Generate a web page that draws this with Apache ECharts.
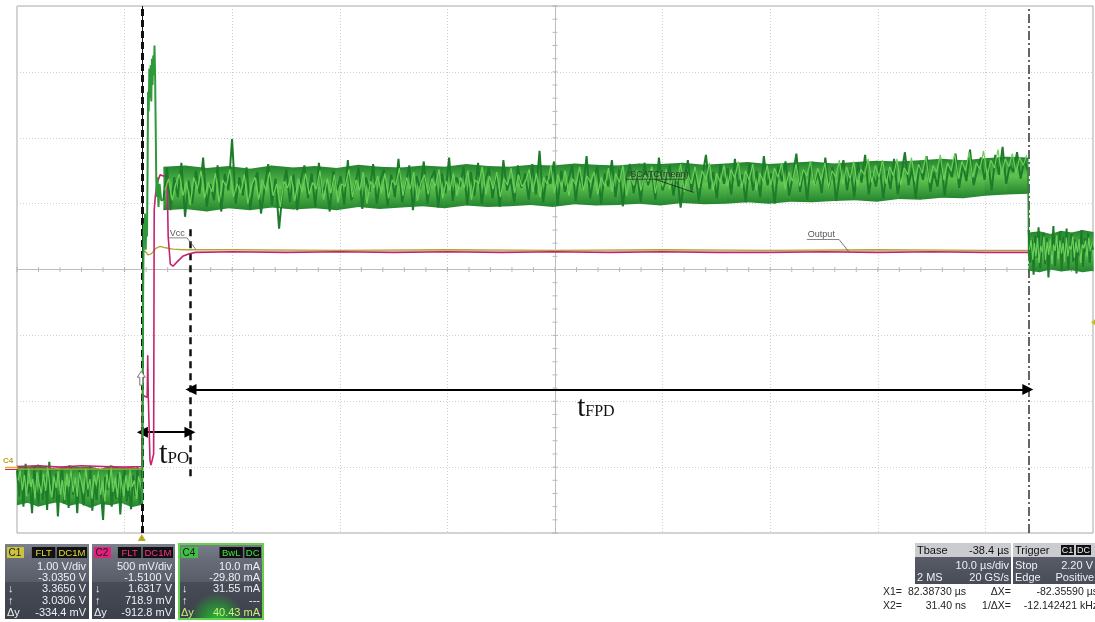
<!DOCTYPE html>
<html><head><meta charset="utf-8">
<script src="https://cdn.jsdelivr.net/npm/echarts/dist/echarts.min.js"></script>
<style>html,body{margin:0;padding:0;background:#fff;overflow:hidden}#c{width:1095px;height:622px}</style>
</head><body><div id="c"></div>
<script>
// Time in µs from the left edge of the screen (10 µs/div), amplitude in divisions (8 div screen)
const cursorX2 = 11.6;     // trigger cursor (X2)
const cursorX1 = 93.99;    // X1 cursor (X2 + 82.36 µs)
const tpoEnd = 16.12;      // end of tPO interval
const tpoLevel = -2.47;
const tfpdLevel = -1.82;

// C4 (current) trace – hand-read samples, dark (outer) and light (inner) persistence strokes
const c4PreSpan = [0, 11.6];
const c4Pre = [-3.05,-3.45,-3.10,-3.60,-2.95,-3.40,-3.25,-3.70,-3.00,-3.35,-3.55,-3.05,-3.50,-3.15,-3.65,-2.92,-3.30,-3.48,-3.10,-3.75,
  -3.20,-3.02,-3.55,-3.28,-3.62,-3.00,-3.42,-3.18,-3.70,-3.05,-3.38,-3.58,-3.12,-3.45,-2.98,-3.66,-3.22,-3.50,-3.08,-3.40,
  -3.80,-3.15,-3.35,-3.02,-3.60,-3.25,-3.48,-3.10,-3.72,-3.20,-3.05,-3.52,-3.30,-3.64,-3.12,-3.44,-3.00,-3.56,-3.30];
const c4PreB = [-3.20,-3.05,-3.35,-3.12,-3.44,-3.02,-3.30,-3.18,-3.48,-3.08,-3.26,-3.40,-3.10,-3.36,-3.00,-3.28,-3.46,-3.14,-3.32,-3.06,
  -3.42,-3.20,-3.50,-3.10,-3.30,-3.04,-3.38,-3.16,-3.45,-3.08,-3.24,-3.40,-3.02,-3.34,-3.18,-3.48,-3.12,-3.28,-3.06,-3.42,
  -3.22,-3.52,-3.10,-3.32,-3.00,-3.38,-3.16,-3.46,-3.08,-3.26,-3.44,-3.12,-3.36,-3.04,-3.30,-3.20,-3.48,-3.14,-3.28];
const c4PreHi = [-2.98,-3.00,-2.96,-3.01,-3.02,-2.97,-3.00,-2.99,-3.03,-2.97,-3.01,-3.00,-3.02];
const c4PreLo = [-3.58,-3.54,-3.60,-3.56,-3.53,-3.59,-3.55,-3.62,-3.56,-3.58,-3.54,-3.61,-3.57];
const c4Spike = [[11.6,-3.30],[11.64,-3.55],[11.68,-2.40],[11.72,-0.40],[11.78,0.70],[11.84,0.45],[11.90,0.85],[11.96,0.30],
  [12.02,0.75],[12.08,0.50],[12.14,1.60],[12.18,2.70],[12.24,2.40],[12.30,3.05],[12.36,2.60],[12.42,3.10],[12.48,2.55],
  [12.54,3.20],[12.60,2.80],[12.66,3.25],[12.72,2.95],[12.78,3.40],[12.84,2.90],[12.88,2.30],[12.94,1.40],[12.98,1.10],
  [13.05,1.40],[13.15,0.95],[13.25,1.30],[13.40,1.05],[13.60,1.05]];
const c4MainSpan = [13.6, 93.95];
const c4Main = [
  1.05,1.55,0.90,1.40,1.10,1.62,0.80,1.35,1.00,1.50,1.15,1.70,0.95,1.30,1.05,1.58,0.88,1.45,1.20,1.98,
  1.00,1.40,1.12,1.55,0.92,1.30,1.48,0.85,1.25,1.60,0.98,1.38,0.62,1.20,1.52,1.02,1.44,0.90,1.35,1.58,
  1.08,1.46,0.95,1.62,1.15,1.32,0.88,1.50,1.20,1.42,0.98,1.66,1.05,1.28,1.55,0.92,1.40,1.18,1.60,1.00,
  1.35,1.52,0.96,1.44,1.10,1.68,1.02,1.30,1.58,0.90,1.42,1.22,1.64,1.00,1.38,1.50,0.94,1.46,1.16,1.70,
  1.04,1.40,1.26,1.56,0.98,1.48,1.12,1.62,1.00,1.34,1.54,1.08,1.44,0.95,1.66,1.20,1.38,1.02,1.58,1.24,
  1.46,1.06,1.60,1.14,1.80,1.02,1.42,1.30,1.64,0.98,1.50,1.18,1.36,1.58,1.04,1.48,1.22,1.72,1.08,1.40,
  1.56,1.00,1.46,1.26,1.66,1.10,1.52,0.96,1.40,1.60,1.16,1.44,1.02,1.62,1.28,1.50,1.06,1.70,1.20,1.38,
  1.58,1.12,1.46,0.94,1.36,1.66,1.18,1.52,1.04,1.42,1.74,1.22,1.48,1.08,1.60,1.30,1.54,1.14,1.68,1.26,
  1.44,1.02,1.62,1.20,1.50,1.10,1.72,1.28,1.46,1.00,1.56,1.34,1.64,1.12,1.42,1.76,1.18,1.52,1.06,1.60,
  1.30,1.48,1.16,1.70,1.24,1.56,1.04,1.44,1.66,1.20,1.52,1.10,1.62,1.32,1.74,1.14,1.46,1.26,1.58,1.08,
  1.50,1.22,1.68,1.14,1.44,1.78,1.28,1.54,1.08,1.62,1.36,1.72,1.18,1.48,1.26,1.66,1.12,1.56,1.40,1.76,
  1.24,1.60,1.34,1.82,1.28,1.52,1.70,1.36,1.64,1.20,1.74,1.44,1.86,1.30,1.58,1.48,1.78,1.38,1.66,1.50];
const c4MainB = [
  1.20,1.38,1.05,1.30,1.45,1.12,1.34,0.98,1.40,1.22,1.50,1.08,1.32,1.18,1.46,1.02,1.36,1.26,1.52,1.10,
  1.30,1.16,1.44,1.00,1.28,1.40,1.06,1.36,1.20,1.48,1.12,1.30,0.95,1.34,1.24,1.42,1.04,1.38,1.18,1.46,
  1.14,1.32,1.22,1.50,1.06,1.38,1.16,1.44,1.02,1.30,1.26,1.52,1.10,1.36,1.20,1.48,1.00,1.34,1.24,1.42,
  1.16,1.46,1.08,1.36,1.28,1.54,1.12,1.40,1.22,1.48,1.04,1.32,1.44,1.14,1.38,1.26,1.52,1.08,1.34,1.20,
  1.46,1.12,1.40,1.24,1.50,1.06,1.36,1.30,1.56,1.14,1.42,1.22,1.48,1.10,1.38,1.28,1.54,1.16,1.44,1.26,
  1.34,1.52,1.18,1.46,1.10,1.40,1.30,1.58,1.16,1.44,1.24,1.50,1.12,1.38,1.28,1.56,1.20,1.42,1.32,1.48,
  1.14,1.40,1.26,1.54,1.18,1.46,1.32,1.58,1.12,1.42,1.28,1.50,1.20,1.44,1.34,1.56,1.16,1.46,1.26,1.52,
  1.22,1.48,1.34,1.60,1.18,1.44,1.30,1.56,1.24,1.50,1.36,1.62,1.20,1.46,1.32,1.58,1.26,1.52,1.38,1.64,
  1.24,1.50,1.36,1.60,1.20,1.46,1.32,1.58,1.28,1.54,1.40,1.62,1.22,1.48,1.34,1.60,1.26,1.52,1.42,1.64,
  1.28,1.54,1.36,1.62,1.24,1.50,1.40,1.66,1.30,1.56,1.38,1.64,1.26,1.52,1.44,1.68,1.32,1.58,1.40,1.66,
  1.30,1.56,1.42,1.68,1.28,1.54,1.44,1.70,1.34,1.60,1.46,1.72,1.32,1.58,1.48,1.74,1.36,1.62,1.50,1.76,
  1.38,1.64,1.50,1.78,1.40,1.62,1.52,1.80,1.42,1.66,1.54,1.82,1.44,1.68,1.56,1.76,1.46,1.70,1.58,1.74];
const c4MainHi = [1.56,1.58,1.54,1.57,1.53,1.58,1.55,1.57,1.54,1.59,1.56,1.55,1.58,1.56,1.60,1.57,1.56,1.59,1.58,1.61,1.59,
  1.58,1.61,1.60,1.62,1.59,1.61,1.63,1.60,1.62,1.64,1.61,1.63,1.65,1.64,1.66,1.68,1.66,1.69,1.71,1.70];
const c4MainLo = [0.90,0.92,0.88,0.93,0.90,0.94,0.91,0.93,0.90,0.95,0.92,0.94,0.96,0.93,0.97,0.95,0.96,0.98,0.95,0.99,0.97,
  0.98,1.00,0.97,1.01,0.99,1.00,1.02,1.00,1.03,1.02,1.04,1.05,1.03,1.07,1.06,1.09,1.08,1.12,1.14,1.15];
const c4Drop = [[93.95,1.50],[93.99,0.90],[94.02,0.20]];
const c4PostSpan = [94.02, 100];
const c4Post = [0.60,0.10,0.45,-0.08,0.52,0.18,0.64,0.02,0.38,0.56,0.08,0.48,-0.12,0.40,0.22,0.66,0.05,0.44,0.28,0.58,
  -0.02,0.50,0.14,0.62,0.00,0.36,0.54,0.12,0.46,-0.06,0.42,0.20,0.60,0.04,0.48,0.26,0.55,0.10,0.40,0.30];
const c4PostB = [0.30,0.45,0.15,0.40,0.20,0.48,0.10,0.36,0.26,0.50,0.14,0.42,0.22,0.46,0.08,0.38,0.28,0.52,0.16,0.44,
  0.24,0.40,0.12,0.48,0.20,0.36,0.30,0.50,0.18,0.42,0.26,0.46,0.10,0.38,0.32,0.44,0.20,0.48,0.28,0.40];
const c4PostHi = [0.56,0.58,0.54,0.59,0.56,0.60,0.57];
const c4PostLo = [-0.02,-0.04,0.00,-0.03,-0.01,-0.04,-0.02];

// C2 (Output) trace
const c2Points = [[0,-2.99],[2,-2.98],[4,-3.00],[6,-2.98],[8,-2.99],[10,-3.00],[11.6,-2.99],
  [11.68,-1.88],[11.80,-1.92],[11.95,-1.90],[12.10,-1.94],[12.15,-1.30],[12.20,-1.92],[12.30,-1.95],[12.36,-2.90],
  [12.45,-2.97],[12.60,-2.95],[12.70,-2.80],[12.75,0.90],[12.85,1.10],[13.00,1.30],[13.30,1.44],[13.60,1.42],[13.95,1.42],
  [14.05,0.50],[14.25,0.08],[14.50,0.05],[14.90,0.12],[15.40,0.20],[16.00,0.24],[16.60,0.26],[20,0.27],[25,0.26],[30,0.27],
  [35,0.26],[40,0.27],[45,0.26],[50,0.27],[55,0.26],[60,0.27],[65,0.26],[70,0.26],[75,0.27],[80,0.26],[85,0.27],[90,0.26],[94.0,0.26]];
// C1 (Vcc) trace
const c1Points = [[0,-3.03],[11.6,-3.03],[11.70,0.25],[11.90,0.28],[12.20,0.22],[12.50,0.24],[12.90,0.32],[13.30,0.35],
  [13.80,0.33],[14.50,0.31],[15.50,0.30],[20,0.30],[30,0.29],[40,0.30],[50,0.29],[60,0.30],[70,0.29],[80,0.30],[90,0.29],[94.0,0.29]];

// Read-outs
const c1Info = ['1.00 V/div','-3.0350 V','3.3650 V','3.0306 V','-334.4 mV'];
const c2Info = ['500 mV/div','-1.5100 V','1.6317 V','718.9 mV','-912.8 mV'];
const c4Info = ['10.0 mA','-29.80 mA','31.55 mA','---','40.43 mA'];
const tbaseInfo = ['-38.4 µs','10.0 µs/div','2 MS','20 GS/s'];
const trigInfo = ['2.20 V','Positive'];
const cursorInfo = [['X1=','82.38730 µs','ΔX=','-82.35590 µs'],['X2=','31.40 ns','1/ΔX=','-12.142421 kHz']];

function spread(vals, span){
  const n = vals.length, out = [];
  for (let i=0;i<n;i++) out.push([span[0] + (span[1]-span[0])*i/(n-1), vals[i]]);
  return out;
}
const G = echarts.graphic;
const DARK = '#1c7c29', LIGHT = '#6ccf5a';
const ticks = [];
for (let i=0;i<=50;i++){ ticks.push([i*2, 0]); }
const vticks = [];
for (let i=-20;i<=20;i++){ vticks.push([50, i*0.2]); }

function trace(name,data,color,width,z){ return {type:'line',name:name,data:data,showSymbol:false,silent:true,lineStyle:{color:color,width:width},z:z}; }
// persistence band between a lower and an upper envelope, drawn through the axes with a custom series
function band(name,hi,lo,span,z){
  const n = hi.length, rows = [];
  for (let i=0;i<n-1;i++){
    const x0 = span[0]+(span[1]-span[0])*i/(n-1), x1 = span[0]+(span[1]-span[0])*(i+1)/(n-1);
    rows.push([x0,lo[i],hi[i],x1,lo[i+1],hi[i+1]]);
  }
  return {type:'custom',name:name,data:rows,z:z,silent:true,encode:{x:[0,3],y:[1,2,4,5]},
    renderItem:function(params,api){
      const a=api.coord([api.value(0),api.value(1)]), b=api.coord([api.value(0),api.value(2)]);
      const c=api.coord([api.value(3),api.value(5)]), d=api.coord([api.value(3),api.value(4)]);
      c[0]+=0.6; d[0]+=0.6;
      return {type:'polygon',shape:{points:[a,b,c,d]},style:{fill:new G.LinearGradient(0,0,0,1,[{offset:0,color:'#23852e'},{offset:0.5,color:'#5fc250'},{offset:1,color:'#23852e'}])}};
    }};
}

const chart = echarts.init(document.getElementById('c'), null, {renderer:'canvas'});
const option = {
  backgroundColor:'#ffffff',
  animation:false,
  grid:{left:17,right:2,top:6,bottom:89,show:true,borderColor:'#a9a9a9',borderWidth:1,backgroundColor:'#fff',outerBoundsMode:'none'},
  xAxis:{type:'value',min:0,max:100,interval:10,axisLabel:{show:false},axisTick:{show:false},axisLine:{show:false},
    splitLine:{show:true,lineStyle:{color:'#cfcfcf',type:[1,2],width:1}}},
  yAxis:{type:'value',min:-4,max:4,interval:1,axisLabel:{show:false},axisTick:{show:false},axisLine:{show:false},
    splitLine:{show:true,lineStyle:{color:'#cfcfcf',type:[1,2],width:1}}},
  series:[
    {type:'scatter',name:'hticks',data:ticks,symbol:'rect',symbolSize:[1,5],itemStyle:{color:'#a8a8a8'},silent:true,z:1,
      markLine:{silent:true,symbol:'none',label:{show:false},lineStyle:{color:'#bcbcbc',type:'solid',width:1},data:[{yAxis:0},{xAxis:50}]}},
    {type:'scatter',name:'vticks',data:vticks,symbol:'rect',symbolSize:[5,1],itemStyle:{color:'#a8a8a8'},silent:true,z:1},
    band('prb',c4PreHi,c4PreLo,c4PreSpan,2),
    trace('C4pre',spread(c4Pre,c4PreSpan),DARK,2.0,3),
    trace('C4preB',spread(c4PreB,[0.1,11.5]),LIGHT,1.2,3),
    trace('C1',c1Points,'#b0a63a',1.3,4),
    trace('C2',c2Points,'#c8226e',1.6,5),
    band('mnb',c4MainHi,c4MainLo,c4MainSpan,5),
    band('psb',c4PostHi,c4PostLo,c4PostSpan,5),
    trace('C4spike',c4Spike,'#2f9a39',2.0,6),
    trace('C4main',spread(c4Main,c4MainSpan),DARK,2.0,6),
    trace('C4mainB',spread(c4MainB,[13.75,93.85]),LIGHT,1.2,6),
    trace('C4drop',c4Drop,'#2a8a30',1.5,6),
    trace('C4post',spread(c4Post,c4PostSpan),DARK,2.0,6),
    trace('C4postB',spread(c4PostB,[94.1,99.9]),LIGHT,1.2,6),
    {type:'line',name:'cursors',data:[],z:8,
      markLine:{silent:true,symbol:'none',label:{show:false},animation:false,
        data:[
          {xAxis:cursorX2,lineStyle:{color:'#111',type:'solid',width:1}},
          {xAxis:cursorX2,lineStyle:{color:'#111',type:[7,4],width:3}},
          {xAxis:cursorX1,lineStyle:{color:'#333',type:[9,3,2,3],width:1.5}},
          [{coord:[tpoEnd,0.61],lineStyle:{color:'#111',type:[7,5],width:2.5}},{coord:[tpoEnd,-3.19]}]
        ]}},
    {type:'line',name:'arrows',data:[],z:9,
      markLine:{silent:true,symbol:['triangle','triangle'],symbolSize:11,label:{show:false},animation:false,
        lineStyle:{color:'#000',type:'solid',width:2},itemStyle:{color:'#000'},
        data:[
          [{coord:[cursorX2+0.05,tpoLevel]},{coord:[tpoEnd-0.05,tpoLevel]}],
          [{coord:[tpoEnd+0.05,tfpdLevel]},{coord:[cursorX1-0.05,tfpdLevel]}]
        ]}}
  ]
};
chart.setOption(option);

function P(s,d){ return chart.convertToPixel({gridIndex:0},[s,d]); }
const FONT = '"Liberation Sans", Arial, sans-serif';
const gfx = [];
function txt(x,y,t,o){ o=o||{}; gfx.push({type:'text',x:x,y:y,z:o.z||20,silent:true,style:{text:t,fill:o.fill||'#eef0f4',font:(o.weight||'normal')+' '+(o.size||11)+'px '+(o.family||FONT),textAlign:o.align||'left',textVerticalAlign:o.va||'middle'}}); }
function rect(x,y,w,h,fill,o){ o=o||{}; gfx.push({type:'rect',z:o.z||10,silent:true,shape:{x:x,y:y,width:w,height:h},style:{fill:fill,stroke:o.stroke||null,lineWidth:o.lw||0}}); }
function line(a,b,stroke,w,o){ o=o||{}; gfx.push({type:'line',z:o.z||20,silent:true,shape:{x1:a[0],y1:a[1],x2:b[0],y2:b[1]},style:{stroke:stroke,lineWidth:w||1}}); }

// plot annotations (anchored in data units)
const serif = '"Liberation Serif","DejaVu Serif",serif';
let p = P(14.6,-2.80);
gfx.push({type:'text',x:p[0],y:p[1],z:30,silent:true,style:{text:'{t|t}{s|PO}',textAlign:'center',textVerticalAlign:'middle',
  rich:{t:{fontFamily:serif,fontSize:31,fill:'#111',verticalAlign:'bottom',lineHeight:32},s:{fontFamily:serif,fontSize:17,fill:'#111',verticalAlign:'bottom',lineHeight:32,padding:[0,0,3,0]}}}});
p = P(53.8,-2.10);
gfx.push({type:'text',x:p[0],y:p[1],z:30,silent:true,style:{text:'{t|t}{s|FPD}',textAlign:'center',textVerticalAlign:'middle',
  rich:{t:{fontFamily:serif,fontSize:29,fill:'#111',verticalAlign:'bottom',lineHeight:30},s:{fontFamily:serif,fontSize:16,fill:'#111',verticalAlign:'bottom',lineHeight:30,padding:[0,0,3,0]}}}});

function leader(textAt, label, ulFrom, ulTo, tip, color){
  const a = P(textAt[0],textAt[1]);
  txt(a[0],a[1],label,{fill:color||'#555',size:9,z:30});
  const u1 = P(ulFrom[0],ulFrom[1]), u2 = P(ulTo[0],ulTo[1]), t = P(tip[0],tip[1]);
  line(u1,u2,'#666',0.8,{z:30});
  line(u2,t,'#555',0.8,{z:30});
}
leader([14.2,0.55],'Vcc',[14.1,0.48],[15.8,0.48],[16.6,0.31]);
leader([73.5,0.53],'Output',[73.4,0.455],[76.4,0.455],[77.3,0.27]);
(function(){
  const a = P(56.75,1.44); txt(a[0],a[1],'ISCATC(mean)',{fill:'#2f3a30',size:9,z:30});
  const u1=P(56.6,1.37), u2=P(62.0,1.37), m=P(59.3,1.37), t=P(62.9,1.17);
  line(u1,u2,'#333',0.8,{z:30}); line(m,t,'#222',0.8,{z:30});
})();

// channel marker at the left and trigger markers
txt(3,461,'C4',{fill:'#c0a020',size:8,z:30,weight:'bold'});
line([5,467.5],[18,467.5],'#e0b020',1.5,{z:30});
line([5,469.5],[18,469.5],'#d02070',1,{z:30});
(function(){
  const b = P(cursorX2,-4);
  gfx.push({type:'polygon',z:30,silent:true,shape:{points:[[b[0]-4,b[1]+8],[b[0]+4,b[1]+8],[b[0],b[1]+1]]},style:{fill:'#b8a820'}});
  const t = P(cursorX2-0.05,-1.65);
  gfx.push({type:'polygon',z:30,silent:true,shape:{points:[[t[0],t[1]-7],[t[0]-4,t[1]-1],[t[0]-1.5,t[1]-1],[t[0]-1.5,t[1]+7],[t[0]+1.5,t[1]+7],[t[0]+1.5,t[1]-1],[t[0]+4,t[1]-1]]},style:{fill:'#fff',stroke:'#777',lineWidth:1}});
  const r = P(100,-0.8);
  gfx.push({type:'polygon',z:30,silent:true,shape:{points:[[r[0]+2,r[1]-3],[r[0]+2,r[1]+3],[r[0]-2,r[1]]]},style:{fill:'#c8c020'}});
})();

// channel read-out panels
function chanPanel(x,w,name,nameBg,badges,badgeColor,info,opt){
  opt=opt||{};
  const y=544,h=75;
  rect(x,y,w,h,new G.LinearGradient(0,0,0,1,[{offset:0,color:'#7b808c'},{offset:0.17,color:'#6a6f7b'},{offset:0.5,color:'#585d69'},{offset:0.51,color:'#474c57'},{offset:1,color:'#3b404a'}]),{stroke:opt.border||null,lw:opt.border?2:0});
  if(opt.glow){ rect(x+1,582,w-2,36,new G.RadialGradient(0.45,1.05,0.75,[{offset:0,color:'rgba(40,190,50,1)'},{offset:0.55,color:'rgba(40,160,50,0.65)'},{offset:1,color:'rgba(40,160,50,0)'}]),{z:11}); }
  rect(x+2,y+3,17,11,nameBg,{z:12});
  txt(x+3.5,y+9,name,{fill:'#1a1a1a',size:10,z:13});
  let bx = x+w-2;
  for (let i=badges.length-1;i>=0;i--){
    const bw = badges[i].length*6.8+3;
    bx -= bw;
    rect(bx,y+3,bw,11,'#111',{z:12});
    txt(bx+bw/2,y+9,badges[i],{fill:badgeColor,size:9.5,align:'center',z:13});
    bx -= 1.5;
  }
  const rx = x+w-3, ys=[567,578,589,601,613];
  for (let i=0;i<5;i++) txt(rx,ys[i],info[i],{align:'right',size:11,fill:(i===4&&opt.lastColor)?opt.lastColor:'#eef0f4',z:14});
  txt(x+3,589,'↓',{size:11,z:14}); txt(x+3,601,'↑',{size:11,z:14});
  txt(x+2,613,'Δy',{size:11,z:14,fill:opt.lastColor||'#eef0f4'});
}
chanPanel(5,84,'C1','#cbc33c',['FLT','DC1M'],'#e6dc3a',c1Info);
chanPanel(92,83,'C2','#e2207c',['FLT','DC1M'],'#ff2f8e',c2Info);
chanPanel(179,84,'C4','#3fbf43',['BwL','DC'],'#3fe548',c4Info,{border:'#66d14a',glow:true,lastColor:'#c6f27a'});

// timebase & trigger boxes
function infoBox(x,w,title){
  rect(x,543,w,41,new G.LinearGradient(0,0,0,1,[{offset:0,color:'#5f6470'},{offset:1,color:'#474c57'}]));
  rect(x,543,w,14,'#cbccd0',{z:11});
  txt(x+2,550.5,title,{fill:'#111',size:11,z:13});
}
infoBox(915,96,'Tbase');
txt(1009,550.5,tbaseInfo[0],{fill:'#111',size:11,align:'right',z:13});
txt(1009,566,tbaseInfo[1],{align:'right',size:11,z:13});
txt(917,577.5,tbaseInfo[2],{size:11,z:13});
txt(1009,577.5,tbaseInfo[3],{align:'right',size:11,z:13});
infoBox(1013,82,'Trigger');
rect(1061,545,13,10,'#111',{z:12}); txt(1067.5,550.5,'C1',{fill:'#eee',size:9,align:'center',z:13});
rect(1076,545,15,10,'#111',{z:12}); txt(1083.5,550.5,'DC',{fill:'#eee',size:9,align:'center',z:13});
txt(1015,566,'Stop',{size:11,z:13}); txt(1093,566,trigInfo[0],{align:'right',size:11,z:13});
txt(1015,577.5,'Edge',{size:11,z:13}); txt(1094,577.5,trigInfo[1],{align:'right',size:11,z:13});
const cy=[592,606];
for (let r=0;r<2;r++){
  const c=cursorInfo[r];
  txt(883,cy[r],c[0],{fill:'#222',size:10.5,z:13});
  txt(966,cy[r],c[1],{fill:'#222',size:10.5,align:'right',z:13});
  txt(1011,cy[r],c[2],{fill:'#222',size:10.5,align:'right',z:13});
  txt(1098,cy[r],c[3],{fill:'#222',size:10.5,align:'right',z:13});
}
chart.setOption({graphic:gfx});
</script></body></html>
